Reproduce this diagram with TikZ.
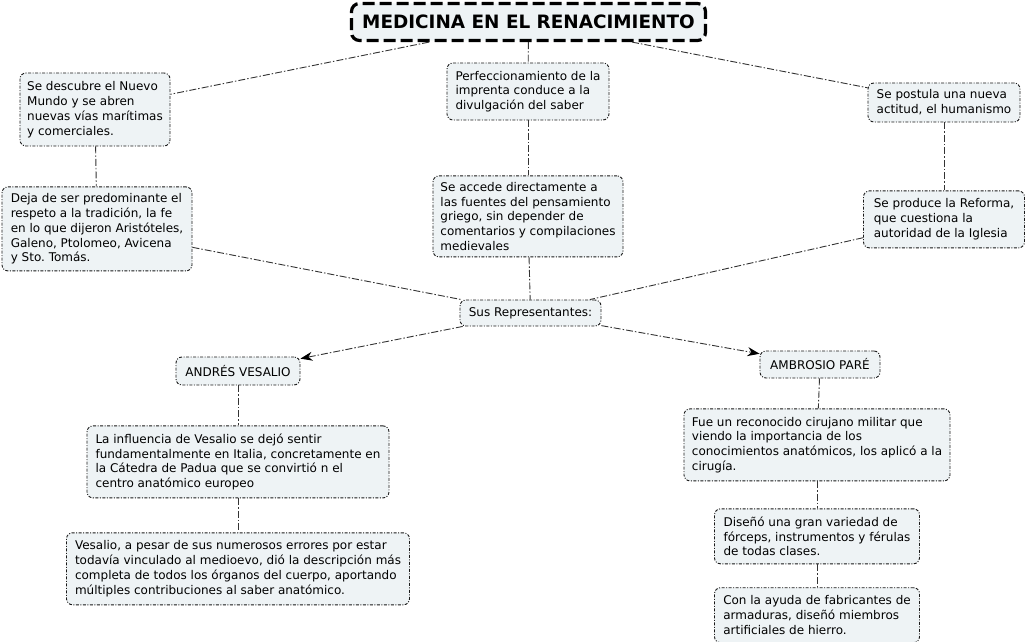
\documentclass[tikz,border=0pt]{standalone}
\usepackage{fontspec}
\setmainfont{DejaVu Sans}
\usetikzlibrary{positioning,arrows.meta}
\definecolor{boxfill}{HTML}{EEF3F5}
\definecolor{boxline}{HTML}{1A1A1A}
\definecolor{linkgray}{HTML}{333333}
\frenchspacing

\begin{document}
\begin{tikzpicture}[x=1pt, y=-1pt,
  idea/.style={draw=boxline, fill=boxfill, line width=0.9pt, dash pattern=on 3pt off 1.5pt on 1pt off 1.5pt,
               rounded corners=6pt, align=left, inner sep=3pt, font=\fontsize{12}{14.8}\selectfont},
  headbox/.style={draw=black, fill=boxfill, line width=3.2pt, dash pattern=on 12pt off 5pt, rounded corners=8pt,
               minimum width=354pt, minimum height=37pt, font=\bfseries\fontsize{18.4}{20}\selectfont},
  link/.style={draw=linkgray, line width=0.9pt, dash pattern=on 7pt off 2pt on 1.5pt off 2pt},
  arr/.style={link, -{Stealth[length=12pt, width=9pt, black]}}
]
\useasboundingbox (0,0) rectangle (1026,642);

% title and first row
\node[headbox] (title) at (528.5,22) {MEDICINA EN EL RENACIMIENTO};
\node[idea, minimum width=150pt, minimum height=73pt] (mundo) at (95,109.5) {Se descubre el Nuevo\\Mundo y se abren\\nuevas vías marítimas\\y comerciales.};
\node[idea, minimum width=190pt, minimum height=84pt, below=40pt of mundo, xshift=2pt] (tradicion) {Deja de ser predominante el\\respeto a la tradición, la fe\\en lo que dijeron Aristóteles,\\Galeno, Ptolomeo, Avicena\\y Sto. Tomás.};
\node[idea, minimum width=162pt, minimum height=57pt] (imprenta) at (528,91.5) {Perfeccionamiento de la\\imprenta conduce a la\\divulgación del saber};
\node[idea, minimum width=190pt, minimum height=81pt, below=55pt of imprenta] (fuentes) {Se accede directamente a\\las fuentes del pensamiento\\griego, sin depender de\\comentarios y compilaciones\\medievales};
\node[idea, minimum width=152pt, minimum height=39pt] (humanismo) at (944,102.5) {Se postula una nueva\\actitud, el humanismo};
\node[idea, minimum width=161pt, minimum height=57pt, below=68pt of humanismo] (reforma) {Se produce la Reforma,\\que cuestiona la\\autoridad de la Iglesia};

% representantes
\node[idea, minimum width=141pt, minimum height=26pt] (repr) at (530.5,313) {Sus Representantes:};
\node[idea, minimum width=124pt, minimum height=28pt] (vesalio) at (238,371) {ANDRÉS VESALIO};
\node[idea, minimum width=120pt, minimum height=27pt] (pare) at (820,364.5) {AMBROSIO PARÉ};

% Vesalio
\node[idea, minimum width=302pt, minimum height=72pt, below=40pt of vesalio] (influencia) {La influencia de Vesalio se dejó sentir\\fundamentalmente en Italia, concretamente en\\la Cátedra de Padua que se convirtió n el\\centro anatómico europeo};
\node[idea, minimum width=343pt, minimum height=72pt, below=34pt of influencia] (errores) {Vesalio, a pesar de sus numerosos errores por estar\\todavía vinculado al medioevo, dió la descripción más\\completa de todos los órganos del cuerpo, aportando\\múltiples contribuciones al saber anatómico.};

% Paré
\node[idea, minimum width=266pt, minimum height=72pt, below=30pt of pare, xshift=-3pt] (cirujano) {Fue un reconocido cirujano militar que\\viendo la importancia de los\\conocimientos anatómicos, los aplicó a la\\cirugía.};
\node[idea, minimum width=205pt, minimum height=55pt, below=27pt of cirujano] (forceps) {Diseñó una gran variedad de\\fórceps, instrumentos y férulas\\de todas clases.};
\node[idea, minimum width=205pt, minimum height=55pt, below=23pt of forceps] (armaduras) {Con la ayuda de fabricantes de\\armaduras, diseñó miembros\\artificiales de hierro.};

\draw[link] (title) -- (mundo);
\draw[link] (title) -- (imprenta);
\draw[link] (title) -- (humanismo);
\draw[link] (mundo) -- (tradicion);
\draw[link] (imprenta) -- (fuentes);
\draw[link] (humanismo) -- (reforma);
\draw[link] (tradicion) -- (repr);
\draw[link] (fuentes) -- (repr);
\draw[link] (reforma) -- (repr);
\draw[arr] (repr) -- (vesalio);
\draw[arr] (repr) -- (pare);
\draw[link] (vesalio) -- (influencia);
\draw[link] (influencia) -- (errores);
\draw[link] (pare) -- (cirujano);
\draw[link] (cirujano) -- (forceps);
\draw[link] (forceps) -- (armaduras);
\end{tikzpicture}
\end{document}
